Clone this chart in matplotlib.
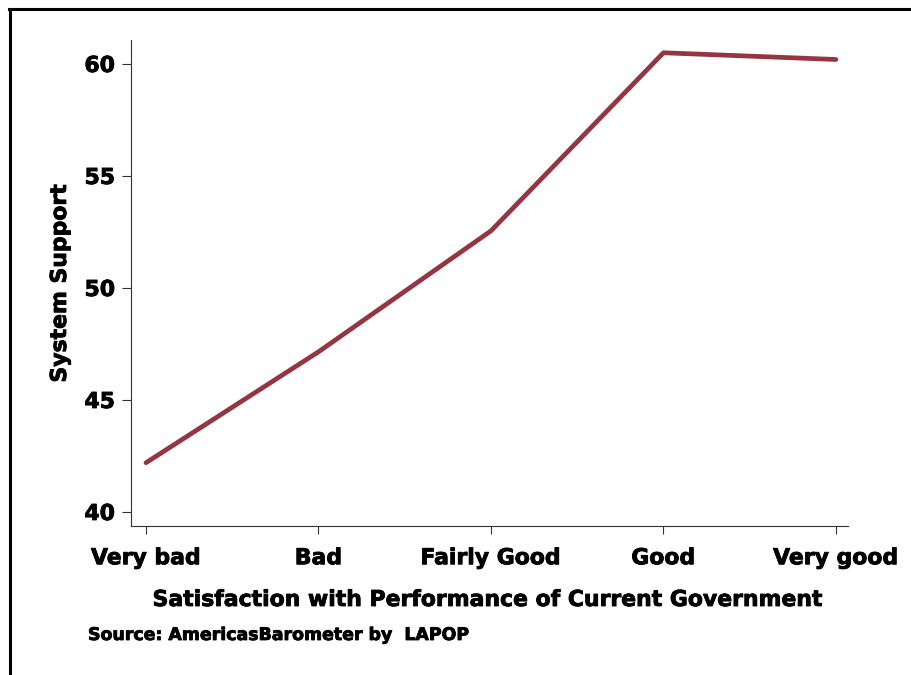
import matplotlib
matplotlib.use("Agg")
import matplotlib.pyplot as plt
from matplotlib.lines import Line2D
import matplotlib.patheffects as pe

categories = ["Very bad", "Bad", "Fairly Good", "Good", "Very good"]
support = [42.2, 47.15, 52.55, 60.5, 60.2]
yticks = [40, 45, 50, 55, 60]

plt.rcParams['font.family'] = ['DejaVu Sans']
plt.rcParams['font.weight'] = 'bold'

heavy = [pe.withStroke(linewidth=0.6, foreground='black')]
FS = 15.8

fig = plt.figure(figsize=(9.12, 6.75), dpi=100)
ax = fig.add_axes([131/912, 1-526/675, (848-131)/912, (526-40)/675])

x = list(range(len(categories)))
ax.plot(x, support, color='#943541', lw=3.4, solid_capstyle='round', solid_joinstyle='round')
ax.set_xlim(-0.087, 4.07)
ax.set_ylim(39.375, 61.07)
ax.set_xticks(x)
ax.set_xticklabels(categories, fontsize=FS, fontweight='bold')
ax.set_yticks(yticks)
ax.set_yticklabels([str(v) for v in yticks], fontsize=FS, fontweight='bold')
for lab in ax.get_xticklabels() + ax.get_yticklabels():
    lab.set_path_effects(heavy)
for s in ['top', 'right']:
    ax.spines[s].set_visible(False)
for s in ['left', 'bottom']:
    ax.spines[s].set_color('#333333')
    ax.spines[s].set_linewidth(0.8)
ax.tick_params(axis='x', length=6, width=0.8, color='#333333', pad=10)
ax.tick_params(axis='y', length=6.5, width=0.8, color='#333333', pad=5)
xl = ax.set_xlabel("Satisfaction with Performance of Current Government", fontsize=FS, fontweight='bold', labelpad=14)
yl = ax.set_ylabel("System Support", fontsize=FS, fontweight='bold', labelpad=18)
xl.set_path_effects(heavy)
yl.set_path_effects(heavy)
ax.yaxis.set_label_coords(-(131-60)/717, 0.5)
ax.xaxis.set_label_coords(0.5, -(600-526)/486)
xl.set_va('center')
yl.set_va('center')

t = fig.text(88/912, 1-635/675, "Source: AmericasBarometer by  LAPOP", fontsize=12.5, fontweight='bold', va='center', ha='left')
t.set_path_effects(heavy)

fig.add_artist(Line2D([10.5/912, 10.5/912], [0, 1-8.5/675], transform=fig.transFigure, color='black', lw=2.2))
fig.add_artist(Line2D([9.5/912, 1], [1-8.5/675, 1-8.5/675], transform=fig.transFigure, color='black', lw=2.2))

fig.savefig("out.png", dpi=100)
